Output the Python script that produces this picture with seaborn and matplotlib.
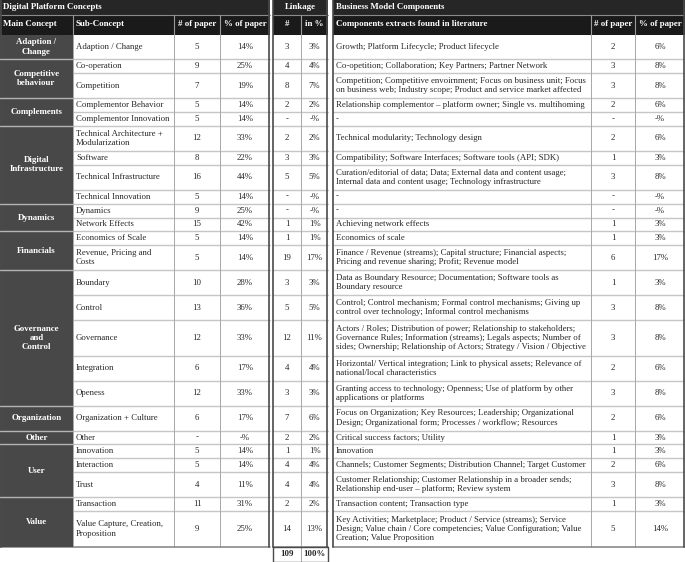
import matplotlib
matplotlib.use("Agg")
import matplotlib.pyplot as plt
from matplotlib.patches import Rectangle
import seaborn as sns

# ---------------- data ----------------
main_concepts = ["Adaption /\nChange", "Competitive\nbehaviour", "Complements", "Digital\nInfrastructure",
                 "Dynamics", "Financials", "Governance\nand\nControl", "Organization", "Other", "User", "Value"]
main_spans = [1, 2, 2, 4, 2, 2, 5, 1, 1, 3, 2]

sub_concepts = ["Adaption / Change", "Co-operation", "Competition", "Complementor Behavior",
                "Complementor Innovation", "Technical Architecture +\nModularization", "Software",
                "Technical Infrastructure", "Technical Innovation", "Dynamics", "Network Effects",
                "Economics of Scale", "Revenue, Pricing and\nCosts", "Boundary", "Control", "Governance",
                "Integration", "Openess", "Organization + Culture", "Other", "Innovation", "Interaction",
                "Trust", "Transaction", "Value Capture, Creation,\nProposition"]
dpc_papers = ["5", "9", "7", "5", "5", "12", "8", "16", "5", "9", "15", "5", "5", "10", "13", "12",
              "6", "12", "6", "-", "5", "5", "4", "11", "9"]
dpc_pct = ["14%", "25%", "19%", "14%", "14%", "33%", "22%", "44%", "14%", "25%", "42%", "14%", "14%",
           "28%", "36%", "33%", "17%", "33%", "17%", "-%", "14%", "14%", "11%", "31%", "25%"]

link_n = ["3", "4", "8", "2", "-", "2", "3", "5", "-", "-", "1", "1", "19", "3", "5", "12", "4", "3",
          "7", "2", "1", "4", "4", "2", "14"]
link_pct = ["3%", "4%", "7%", "2%", "-%", "2%", "3%", "5%", "-%", "-%", "1%", "1%", "17%", "3%", "5%",
            "11%", "4%", "3%", "6%", "2%", "1%", "4%", "4%", "2%", "13%"]
link_total = "109"
link_total_pct = "100%"

bm_components = [
    "Growth; Platform Lifecycle; Product lifecycle",
    "Co-opetition; Collaboration; Key Partners; Partner Network",
    "Competition; Competitive envoirnment; Focus on business unit; Focus\non business web; Industry scope; Product and service market affected",
    "Relationship complementor \u2013 platform owner; Single vs. multihoming",
    "-",
    "Technical modularity; Technology design",
    "Compatibility; Software Interfaces; Software tools (API; SDK)",
    "Curation/editorial of data; Data; External data and content usage;\nInternal data and content usage; Technology infrastructure",
    "-",
    "-",
    "Achieving network effects",
    "Economics of scale",
    "Finance / Revenue (streams); Capital structure; Financial aspects;\nPricing and revenue sharing; Profit; Revenue model",
    "Data as Boundary Resource; Documentation; Software tools as\nBoundary resource",
    "Control; Control mechanism; Formal control mechanisms; Giving up\ncontrol over technology; Informal control mechanisms",
    "Actors / Roles; Distribution of power; Relationship to stakeholders;\nGovernance Rules; Information (streams); Legals aspects; Number of\nsides; Ownership; Relationship of Actors; Strategy / Vision / Objective",
    "Horizontal/ Vertical integration; Link to physical assets; Relevance of\nnational/local characteristics",
    "Granting access to technology; Openness; Use of platform by other\napplications or platforms",
    "Focus on Organization; Key Resources; Leadership; Organizational\nDesign; Organizational form; Processes / workflow; Resources",
    "Critical success factors; Utility",
    "Innovation",
    "Channels; Customer Segments; Distribution Channel; Target Customer",
    "Customer Relationship; Customer Relationship in a broader sends;\nRelationship end-user \u2013 platform; Review system",
    "Transaction content; Transaction type",
    "Key Activities; Marketplace; Product / Service (streams); Service\nDesign; Value chain / Core competencies; Value Configuration; Value\nCreation; Value Proposition",
]
bm_papers = ["2", "3", "3", "2", "-", "2", "1", "3", "-", "-", "1", "1", "6", "1", "3", "3", "2", "3",
             "2", "1", "1", "2", "3", "1", "5"]
bm_pct = ["6%", "8%", "8%", "6%", "-%", "6%", "3%", "8%", "-%", "-%", "3%", "3%", "17%", "3%", "8%",
          "8%", "6%", "8%", "6%", "3%", "3%", "6%", "8%", "3%", "14%"]

header_dpc = ["Main Concept", "Sub-Concept", "# of paper", "% of paper"]
header_link = ["#", "in %"]
header_bm = ["Components extracts found in literature", "# of paper", "% of paper"]
title_dpc = "Digital Platform Concepts"
title_link = "Linkage"
title_bm = "Business Model Components"

# ---------------- style ----------------
sns.set_theme(style="white")
plt.rcParams["font.family"] = ["Liberation Serif", "DejaVu Serif"]

W, H = 685, 562
FS = 6.3
FSB = 6.4
C_H1 = "#262626"
C_H2 = "#1a1a1a"
C_MAIN = "#484848"
C_GRID = "#c6c6c6"
C_VGRID = "#a8a8a8"
C_BORDER = "#4a4a4a"
C_TEXT = "#262626"

L_cols = [0, 73, 174, 220, 270]
K_cols = [273, 301, 328]
B_cols = [333, 591, 635, 685]
Y_H1 = 0
Y_H2 = 14.5
Y_BODY = 34.5


def nlines(s):
    return s.count("\n") + 1


group_of_row = []
for g, span in enumerate(main_spans):
    group_of_row += [g] * span
row_lines = []
for i in range(len(sub_concepts)):
    n = max(nlines(sub_concepts[i]), nlines(bm_components[i]))
    if main_spans[group_of_row[i]] == 1:
        n = max(n, nlines(main_concepts[group_of_row[i]]))
    row_lines.append(n)
row_h = [2.9 + 11.0 * n for n in row_lines]
row_y = [Y_BODY]
for h in row_h:
    row_y.append(row_y[-1] + h)
Y_END = row_y[-1]

fig = plt.figure(figsize=(W / 100, H / 100), dpi=100)
ax = fig.add_axes([0, 0, 1, 1])
ax.set_xlim(0, W)
ax.set_ylim(H, 0)
ax.axis("off")


def rect(x0, y0, x1, y1, fc, ec="none", lw=0, z=1):
    ax.add_patch(Rectangle((x0, y0), x1 - x0, y1 - y0, facecolor=fc, edgecolor=ec, lw=lw, zorder=z))


def txt(x, y, s, ha="center", color=C_TEXT, bold=False, size=FS):
    ax.text(x, y, s, ha=ha, va="center", color=color, fontsize=size,
            fontweight="bold" if bold else "normal", linespacing=1.22, zorder=5)


def table_block(cols, title, title_ha, headers, head_ha, body_cols):
    x0, x1 = cols[0], cols[-1]
    rect(x0, Y_H1, x1, Y_H2, C_H1)
    rect(x0, Y_H2, x1, Y_BODY, C_H2)
    ax.plot([x0, x1], [Y_H2, Y_H2], color="#8a8a8a", lw=0.8, zorder=3)
    if title_ha == "left":
        txt(x0 + 3, (Y_H1 + Y_H2) / 2, title, ha="left", color="white", bold=True, size=FSB)
    else:
        txt((x0 + x1) / 2, (Y_H1 + Y_H2) / 2, title, color="white", bold=True, size=FSB)
    for j, h in enumerate(headers):
        a, b = cols[j], cols[j + 1]
        if head_ha[j] == "left":
            txt(a + 3, (Y_H2 + Y_BODY) / 2, h, ha="left", color="white", bold=True, size=FSB)
        else:
            txt((a + b) / 2, (Y_H2 + Y_BODY) / 2, h, color="white", bold=True, size=FSB)
        if j > 0:
            ax.plot([a, a], [Y_H2, Y_BODY], color="#9a9a9a", lw=0.8, zorder=3)
    for i in range(len(row_h)):
        yc = (row_y[i] + row_y[i + 1]) / 2
        for j, (vals, ha) in enumerate(body_cols):
            if vals is None:
                continue
            a, b = cols[j], cols[j + 1]
            if ha == "left":
                txt(a + 3, yc, vals[i], ha="left")
            else:
                txt((a + b) / 2, yc, vals[i])
    for y in row_y[1:-1]:
        ax.plot([x0, x1], [y, y], color=C_GRID, lw=1.0, zorder=2)
    for a in cols[1:-1]:
        ax.plot([a, a], [Y_BODY, Y_END], color=C_VGRID, lw=0.7, zorder=3)
    ax.plot([x0, x1], [Y_END, Y_END], color="#8a8a8a", lw=1.2, zorder=3)
    ax.plot([x0 + 0.5, x0 + 0.5], [0, Y_END], color=C_BORDER, lw=1.2, zorder=4)
    ax.plot([x1 - 0.5, x1 - 0.5], [0, Y_END], color=C_BORDER, lw=1.2, zorder=4)


# Digital platform concepts
table_block(L_cols, title_dpc, "left", header_dpc, ["left", "left", "center", "center"],
            [(None, None), (sub_concepts, "left"), (dpc_papers, "center"), (dpc_pct, "center")])
r = 0
for g, span in enumerate(main_spans):
    y0, y1 = row_y[r], row_y[r + span]
    rect(L_cols[0], y0, L_cols[1], y1, C_MAIN, z=3)
    txt((L_cols[0] + L_cols[1]) / 2, (y0 + y1) / 2, main_concepts[g], color="white", bold=True, size=FSB)
    if r > 0:
        ax.plot([L_cols[0], L_cols[1]], [y0, y0], color="#b4b4b4", lw=1.0, zorder=4)
    r += span

# Linkage
table_block(K_cols, title_link, "center", header_link, ["center", "center"],
            [(link_n, "center"), (link_pct, "center")])
YT = H - 0.5
ax.plot([K_cols[0], K_cols[-1], K_cols[-1], K_cols[0], K_cols[0]], [Y_END, Y_END, YT, YT, Y_END],
        color=C_BORDER, lw=1.0, zorder=4)
ax.plot([K_cols[1], K_cols[1]], [Y_END, YT], color=C_VGRID, lw=0.7, zorder=3)
txt((K_cols[0] + K_cols[1]) / 2, (Y_END + H) / 2, link_total, bold=True)
txt((K_cols[1] + K_cols[2]) / 2, (Y_END + H) / 2, link_total_pct, bold=True)

# Business model components
table_block(B_cols, title_bm, "left", header_bm, ["left", "center", "center"],
            [(bm_components, "left"), (bm_papers, "center"), (bm_pct, "center")])

fig.savefig("out.png", dpi=100, facecolor="white")
